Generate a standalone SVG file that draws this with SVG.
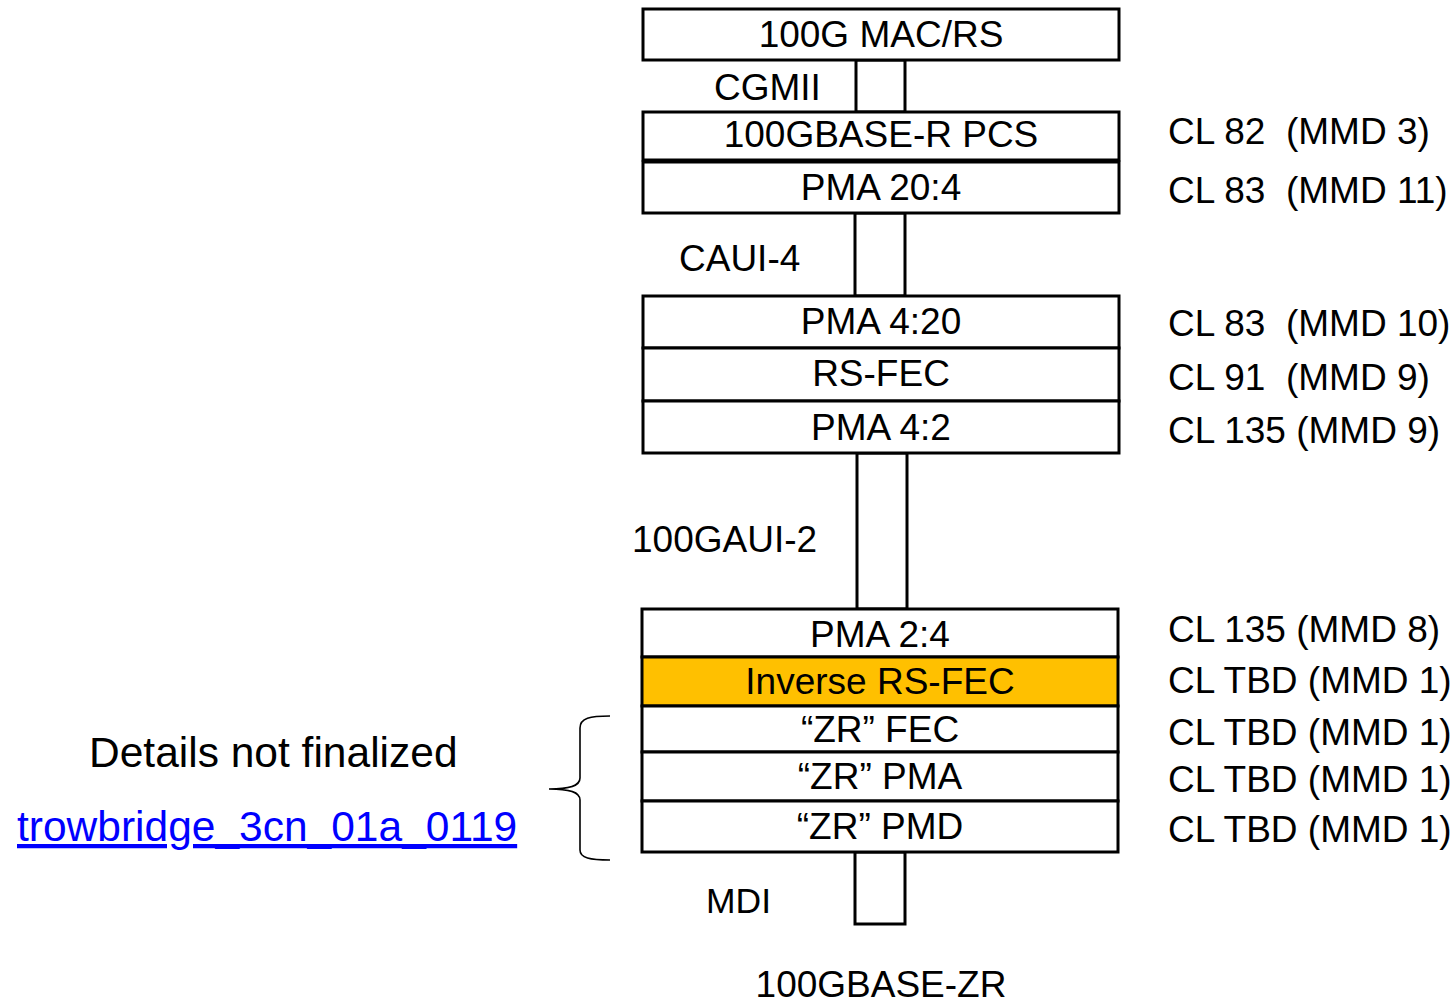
<svg xmlns="http://www.w3.org/2000/svg" width="1456" height="1005" viewBox="0 0 1456 1005">
<style>
text{font-family:"Liberation Sans",Arial,sans-serif;font-size:37px;fill:#000;white-space:pre}
.c{text-anchor:middle}
.box{fill:#fff;stroke:#000;stroke-width:3}
.orange{fill:#FFC000}
.conn{fill:#fff;stroke:#000;stroke-width:3}
.brace{fill:none;stroke:#000;stroke-width:1.6}
.big{font-size:42.5px}
.link{fill:#0000FF;text-decoration:underline}
</style>
<rect width="1456" height="1005" fill="#fff"/>
<g id="connectors">
<rect class="conn" x="856" y="60" width="49" height="52"/>
<rect class="conn" x="855" y="213" width="50" height="83"/>
<rect class="conn" x="857" y="453" width="50" height="156"/>
<rect class="conn" x="855" y="852" width="50" height="72"/>
</g>
<g id="mac"><rect class="box" x="643" y="9" width="476" height="51"/><text class="c" x="881" y="47">100G MAC/RS</text></g>
<g id="pcs"><rect class="box" x="643" y="112" width="476" height="48"/><text class="c" x="881" y="147">100GBASE-R PCS</text></g>
<g id="pma20_4"><rect class="box" x="643" y="162" width="476" height="51"/><text class="c" x="881" y="200">PMA 20:4</text></g>
<g id="pma4_20"><rect class="box" x="643" y="296" width="476" height="52"/><text class="c" x="881" y="334">PMA 4:20</text></g>
<g id="rsfec"><rect class="box" x="643" y="348" width="476" height="53"/><text class="c" x="881" y="386">RS-FEC</text></g>
<g id="pma4_2"><rect class="box" x="643" y="401" width="476" height="52"/><text class="c" x="881" y="440">PMA 4:2</text></g>
<g id="pma2_4"><rect class="box" x="642" y="609" width="476" height="48"/><text class="c" x="880" y="647">PMA 2:4</text></g>
<g id="invfec"><rect class="box orange" x="642" y="657" width="476" height="49"/><text class="c" x="880" y="694">Inverse RS-FEC</text></g>
<g id="zrfec"><rect class="box" x="642" y="706" width="476" height="46"/><text class="c" x="880" y="742">“ZR” FEC</text></g>
<g id="zrpma"><rect class="box" x="642" y="752" width="476" height="49"/><text class="c" x="880" y="789">“ZR” PMA</text></g>
<g id="zrpmd"><rect class="box" x="642" y="801" width="476" height="51"/><text class="c" x="880" y="839">“ZR” PMD</text></g>
<g id="iface-labels">
<text x="714" y="100">CGMII</text>
<text x="679" y="271">CAUI-4</text>
<text x="632" y="552">100GAUI-2</text>
<text x="706" y="913" style="font-size:35.5px">MDI</text>
<text class="c" x="881" y="997">100GBASE-ZR</text>
</g>
<g id="clause-labels">
<text x="1168" y="144">CL 82  (MMD 3)</text>
<text x="1168" y="203">CL 83  (MMD 11)</text>
<text x="1168" y="336">CL 83  (MMD 10)</text>
<text x="1168" y="390">CL 91  (MMD 9)</text>
<text x="1168" y="443">CL 135 (MMD 9)</text>
<text x="1168" y="642">CL 135 (MMD 8)</text>
<text x="1168" y="693">CL TBD (MMD 1)</text>
<text x="1168" y="745">CL TBD (MMD 1)</text>
<text x="1168" y="792">CL TBD (MMD 1)</text>
<text x="1168" y="842">CL TBD (MMD 1)</text>
</g>
<g id="note">
<path class="brace" d="M610,716 C590,716 580,718 580,728 L580,778 C580,786 570,789 549,789 C570,789 580,792 580,800 L580,850 C580,858 590,860 610,860"/>
<text class="big" x="89" y="767">Details not finalized</text>
<text class="big link" x="17" y="841">trowbridge_3cn_01a_0119</text>
</g>
</svg>
